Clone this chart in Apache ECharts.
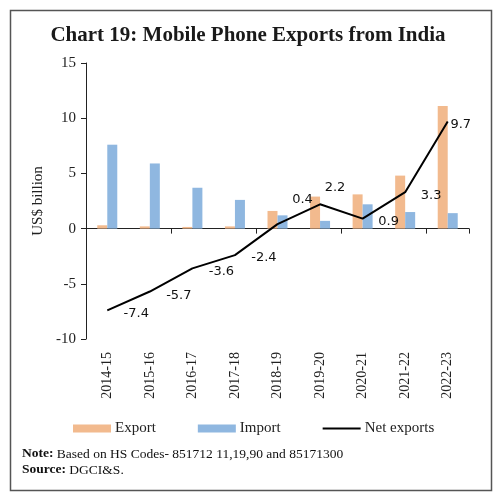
<!DOCTYPE html>
<html>
<head>
<meta charset="utf-8">
<script src="https://cdn.jsdelivr.net/npm/echarts@6/dist/echarts.min.js"></script>
<style>html,body{margin:0;padding:0;background:#fff;}#c{width:496px;height:500px;}</style>
</head>
<body>
<div id="c"></div>
<script>
const categories = ['2014-15','2015-16','2016-17','2017-18','2018-19','2019-20','2020-21','2021-22','2022-23'];
const exportVals = [0.3, 0.2, 0.15, 0.2, 1.6, 2.9, 3.1, 4.8, 11.1];
const importVals = [7.6, 5.9, 3.7, 2.6, 1.2, 0.7, 2.2, 1.5, 1.4];
const netVals = [-7.4, -5.7, -3.6, -2.4, 0.4, 2.2, 0.9, 3.3, 9.7];
const yTicks = [-10, -5, 0, 5, 10, 15];
const labelOffsets = [[29,3],[29,4],[29,3],[29,3],[25,-25],[15,-17],[26,3],[26,3],[13,3]];

const serif = '"Liberation Serif", "DejaVu Serif", serif';
const sans = '"DejaVu Sans", Verdana, sans-serif';
const chart = echarts.init(document.getElementById('c'), null, {renderer: 'canvas'});
chart.setOption({
  animation: false,
  backgroundColor: '#fff',
  title: {
    text: 'Chart 19: Mobile Phone Exports from India',
    left: 'center', top: 20,
    textStyle: {fontFamily: serif, fontWeight: 'bold', fontSize: 21, color: '#1a1a1a'}
  },
  grid: {left: 86, right: 27, top: 63, bottom: 161},
  legend: {
    top: 416, left: 68,
    itemWidth: 38, itemHeight: 8, itemGap: 42,
    textStyle: {fontFamily: serif, fontSize: 15, color: '#222', padding: [0,0,0,-1]},
    data: [
      {name: 'Export', icon: 'rect'},
      {name: 'Import', icon: 'rect'},
      {name: 'Net exports', icon: 'path://M0,0L38,0L38,2L0,2Z', itemStyle: {color: '#000', opacity: 1}}
    ]
  },
  xAxis: [{
    type: 'category', data: categories,
    axisLine: {onZero: true, lineStyle: {color: '#222', width: 1}},
    axisTick: {show: true, length: 5, inside: false, lineStyle: {color: '#222'}},
    axisLabel: {show: false}
  }, {
    type: 'category', data: categories, position: 'bottom',
    axisLine: {show: false}, axisTick: {show: false},
    axisLabel: {rotate: 90, margin: 13, fontFamily: serif, fontSize: 14, color: '#222'}
  }],
  yAxis: {
    type: 'value', min: yTicks[0], max: yTicks[yTicks.length-1], interval: 5,
    name: 'US$ billion', nameLocation: 'middle', nameGap: 40,
    nameTextStyle: {fontFamily: serif, fontSize: 15, color: '#222'},
    axisLine: {show: true, lineStyle: {color: '#222'}},
    axisTick: {show: true, length: 5, lineStyle: {color: '#222'}},
    axisLabel: {margin: 10, fontFamily: serif, fontSize: 15, color: '#222'},
    splitLine: {show: false}
  },
  series: [{
    name: 'Export', type: 'bar', data: exportVals, barWidth: 10, barGap: '0%',
    itemStyle: {color: '#F2BA8E'}
  }, {
    name: 'Import', type: 'bar', data: importVals, barWidth: 10, barGap: '0%',
    itemStyle: {color: '#8FB7E0'}
  }, {
    name: 'Net exports', type: 'line', data: netVals.map((v, i) => ({
      value: v, label: {offset: labelOffsets[i]}
    })),
    symbol: 'circle', symbolSize: 1, showSymbol: true,
    lineStyle: {color: '#000', width: 2}, itemStyle: {color: 'rgba(0,0,0,0)', borderWidth: 0},
    label: {show: true, position: 'inside', fontFamily: sans, fontSize: 13, color: '#111',
      formatter: p => p.value.toFixed(1)},
    z: 5
  }],
  graphic: [{
    type: 'rect', left: 8, top: 8, shape: {width: 481, height: 480},
    style: {fill: 'none', stroke: '#555', lineWidth: 1.5}, silent: true
  }, {
    type: 'text', left: 22, top: 446,
    style: {
      text: '{b|Note:} Based on HS Codes- 851712 11,19,90 and 85171300\n{b|Source:} DGCI&S.',
      font: '13.5px ' + serif, fill: '#111', lineHeight: 16,
      rich: {b: {fontWeight: 'bold', fontFamily: serif, fontSize: 13.5}}
    }
  }]
});
</script>
</body>
</html>
